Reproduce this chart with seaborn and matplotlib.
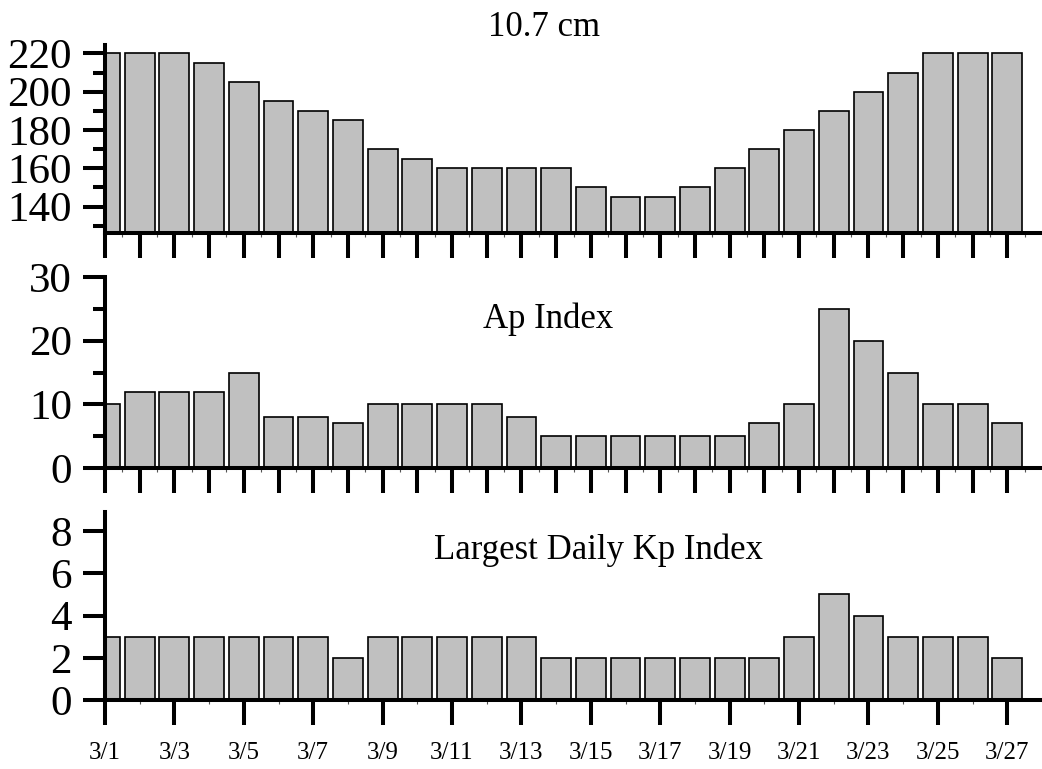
import matplotlib
matplotlib.use("Agg")
import matplotlib.pyplot as plt
import seaborn as sns
import pandas as pd
import numpy as np
from matplotlib.ticker import FixedLocator

sns.set_style("ticks")
plt.rcParams['font.family'] = ['Liberation Serif', 'DejaVu Serif']
plt.rcParams['text.color'] = 'black'

dates = ["3/1", "3/2", "3/3", "3/4", "3/5", "3/6", "3/7", "3/8", "3/9", "3/10",
         "3/11", "3/12", "3/13", "3/14", "3/15", "3/16", "3/17", "3/18", "3/19",
         "3/20", "3/21", "3/22", "3/23", "3/24", "3/25", "3/26", "3/27"]
flux = [220, 220, 220, 215, 205, 195, 190, 185, 170, 165, 160, 160, 160, 160,
        150, 145, 145, 150, 160, 170, 180, 190, 200, 210, 220, 220, 220]
ap = [10, 12, 12, 12, 15, 8, 8, 7, 10, 10, 10, 10, 8, 5, 5, 5, 5, 5, 5, 7,
      10, 25, 20, 15, 10, 10, 7]
kp = [3, 3, 3, 3, 3, 3, 3, 2, 3, 3, 3, 3, 3, 2, 2, 2, 2, 2, 2, 2, 3, 5, 4,
      3, 3, 3, 2]

titles = ["10.7 cm", "Ap Index", "Largest Daily Kp Index"]

df = pd.DataFrame({"date": dates, "flux": flux, "ap": ap, "kp": kp})

W, H = 1042, 769
fig = plt.figure(figsize=(W / 100, H / 100), dpi=100)

def px_axes(top, bottom, left=105, right=1042):
    return fig.add_axes([left / W, (H - bottom) / H, (right - left) / W, (bottom - top) / H])

ax1 = px_axes(45, 233)
ax2 = px_axes(277, 468)
ax3 = px_axes(512, 700)

LW = 2.9
bar_kw = dict(color="#C0C0C0", edgecolor="black", linewidth=1.2, width=0.86,
              saturation=1, order=dates)

sns.barplot(data=df, x="date", y="flux", ax=ax1, **bar_kw)
sns.barplot(data=df, x="date", y="ap", ax=ax2, **bar_kw)
sns.barplot(data=df, x="date", y="kp", ax=ax3, **bar_kw)

n = len(dates)
for ax in (ax1, ax2, ax3):
    ax.set_xlim(0, n)
    ax.set_xlabel("")
    ax.set_ylabel("")
    for s in ("top", "right"):
        ax.spines[s].set_visible(False)
    for s in ("left", "bottom"):
        ax.spines[s].set_linewidth(LW)
        ax.spines[s].set_color("black")
    ax.tick_params(axis="y", which="major", length=15.8, width=LW, labelsize=31,
                   pad=8, colors="black")
    ax.tick_params(axis="y", which="minor", length=8.6, width=LW, colors="black")
    ax.tick_params(axis="x", which="major", length=18, width=LW, colors="black")
    ax.tick_params(axis="x", which="minor", length=3, width=0.8, colors="#555555")
    ax.patch.set_alpha(0)

# top panel
ax1.set_ylim(126.2, 224.4)
ax1.set_yticks([140, 160, 180, 200, 220])
ax1.yaxis.set_minor_locator(FixedLocator([130, 150, 170, 190, 210]))
# middle panel
ax2.set_ylim(0, 30)
ax2.set_yticks([0, 10, 20, 30])
ax2.yaxis.set_minor_locator(FixedLocator([5, 15, 25]))
# bottom panel
ax3.set_ylim(0, 8.9)
ax3.set_yticks([0, 2, 4, 6, 8])

for ax in (ax1, ax2):
    ax.set_xticks(range(n))
    ax.set_xticklabels([])
    ax.xaxis.set_minor_locator(FixedLocator(np.arange(0.5, n, 1.0)))

ax3.set_xticks(range(0, n, 2))
ax3.set_xticklabels(dates[::2], fontsize=18, color="black")
ax3.xaxis.set_minor_locator(FixedLocator(range(1, n, 2)))
ax3.tick_params(axis="x", which="major", pad=12)

ax1.text(0.4685, 1.048, titles[0], transform=ax1.transAxes, ha="center",
         va="baseline", fontsize=25, color="black")
ax2.text(0.473, 0.732, titles[1], transform=ax2.transAxes, ha="center",
         va="baseline", fontsize=25, color="black")
ax3.text(0.527, 0.751, titles[2], transform=ax3.transAxes, ha="center",
         va="baseline", fontsize=25, color="black")

fig.savefig("out.png", dpi=100)
